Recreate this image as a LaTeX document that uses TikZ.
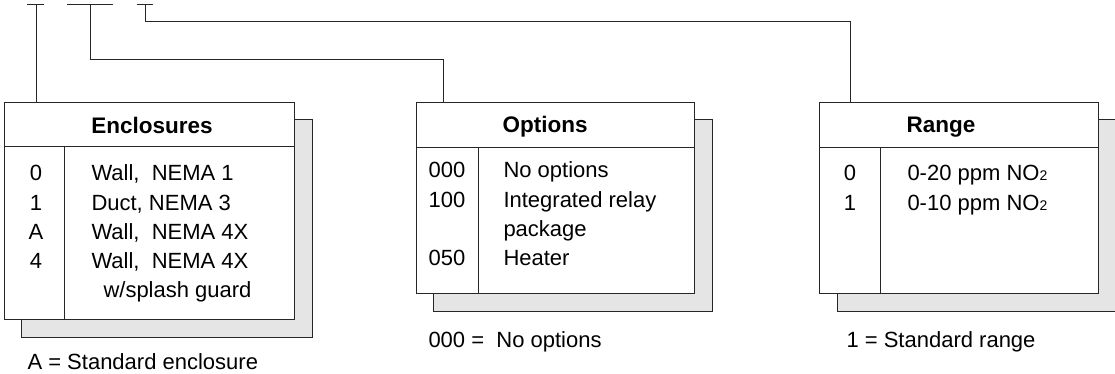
\documentclass[tikz,border=0pt]{standalone}
\usepackage{fontspec}
\setmainfont{Liberation Sans}
\newcommand{\subtwo}{{\fontsize{14}{16}\selectfont 2}}
\begin{document}
\begin{tikzpicture}[x=1pt, y=-1pt, line width=1pt, font=\fontsize{22}{26}\selectfont]

    \tikzset{card/.style={%
      draw=black!85,%
      fill=white,%
      rectangle,%
      inner sep=0pt,%
      anchor=north west}%
    };
    \tikzset{backdrop/.style={card, fill=black!10}};
    \tikzset{digit/.style={anchor=base, inner sep=0pt}};
    \tikzset{entry/.style={anchor=base west, inner sep=0pt}};
    \tikzset{headtext/.style={anchor=base, inner sep=0pt, font=\fontsize{22.5}{26}\selectfont\bfseries}};

    \useasboundingbox (0,0) rectangle (1115,374);

    %%%%%%%%%%%%%%
    % enclosures %
    %%%%%%%%%%%%%%
    \node[backdrop, minimum width=291, minimum height=218] (encls) at (21,119) {};
    \node[card, minimum width=290, minimum height=217] (encl) at (4,102) {};
    \draw[draw=black!85] ([yshift=-45pt]encl.north west) -- ([yshift=-45pt]encl.north east);
    \draw[draw=black!85] ([xshift=60pt,yshift=-45pt]encl.north west) -- ([xshift=60pt]encl.south west);

    \node[headtext] (enclh) at (152,134) {Enclosures};
    \node[digit] (e0) at (36,181) {0};
    \node[digit] (e1) at (36,210) {1};
    \node[digit] (e2) at (36,239) {A};
    \node[digit] (e3) at (36,268) {4};
    \node[entry] (d0) at (91,181) {Wall,\ \ NEMA 1};
    \node[entry] (d1) at (91,210) {Duct, NEMA 3};
    \node[entry] (d2) at (91,239) {Wall,\ \ NEMA 4X};
    \node[entry] (d3) at (91,268) {Wall,\ \ NEMA 4X};
    \node[entry] (d4) at (103,297) {w/splash guard};
    \node[entry] (enote) at (27,369) {A = Standard enclosure};

    %%%%%%%%%%%
    % options %
    %%%%%%%%%%%
    \node[backdrop, minimum width=279, minimum height=192] (opts) at (433,119) {};
    \node[card, minimum width=278, minimum height=191] (opt) at (416,102) {};
    \draw[draw=black!85] ([yshift=-46pt]opt.north west) -- ([yshift=-46pt]opt.north east);
    \draw[draw=black!85] ([xshift=62pt,yshift=-46pt]opt.north west) -- ([xshift=62pt]opt.south west);

    \node[headtext] (opth) at (545,133) {Options};
    \node[digit] (o0) at (447,178) {000};
    \node[digit] (o1) at (447,207) {100};
    \node[digit] (o2) at (447,265) {050};
    \node[entry] (p0) at (503,178) {No options};
    \node[entry] (p1) at (503,207) {Integrated relay};
    \node[entry] (p2) at (503,236) {package};
    \node[entry] (p3) at (503,265) {Heater};
    \node[entry] (onote) at (428,347) {000 =\ \ No options};

    %%%%%%%%%
    % range %
    %%%%%%%%%
    \node[backdrop, minimum width=277.5, minimum height=192] (rngs) at (837,119) {};
    \node[card, minimum width=279, minimum height=191] (rng) at (819,102) {};
    \draw[draw=black!85] ([yshift=-46pt]rng.north west) -- ([yshift=-46pt]rng.north east);
    \draw[draw=black!85] ([xshift=61pt,yshift=-46pt]rng.north west) -- ([xshift=61pt]rng.south west);

    \node[headtext] (rngh) at (941,133) {Range};
    \node[digit] (r0) at (850,181) {0};
    \node[digit] (r1) at (850,210) {1};
    \node[entry] (q0) at (907,181) {0-20 ppm NO\subtwo};
    \node[entry] (q1) at (907,210) {0-10 ppm NO\subtwo};
    \node[entry] (rnote) at (846,347) {1 = Standard range};

    %%%%%%%%%%%%%
    % model key %
    %%%%%%%%%%%%%
    \coordinate (tk1) at (36,5);
    \coordinate (tk2) at (90,5);
    \coordinate (tk3) at (145,5);

    \draw[draw=black!85] ([xshift=-9pt]tk1) -- ([xshift=8pt]tk1);
    \draw[draw=black!85] ([xshift=-23pt]tk2) -- ([xshift=23pt]tk2);
    \draw[draw=black!85] ([xshift=-8pt]tk3) -- ([xshift=8pt]tk3);

    \draw[draw=black!85] (tk1) -- (tk1 |- encl.north);
    \draw[draw=black!85] (tk2) -- ++(0,55) -| ([xshift=27pt]opt.north west);
    \draw[draw=black!85] (tk3) -- ++(0,17) -| ([xshift=31pt]rng.north west);

  \end{tikzpicture}
\end{document}
